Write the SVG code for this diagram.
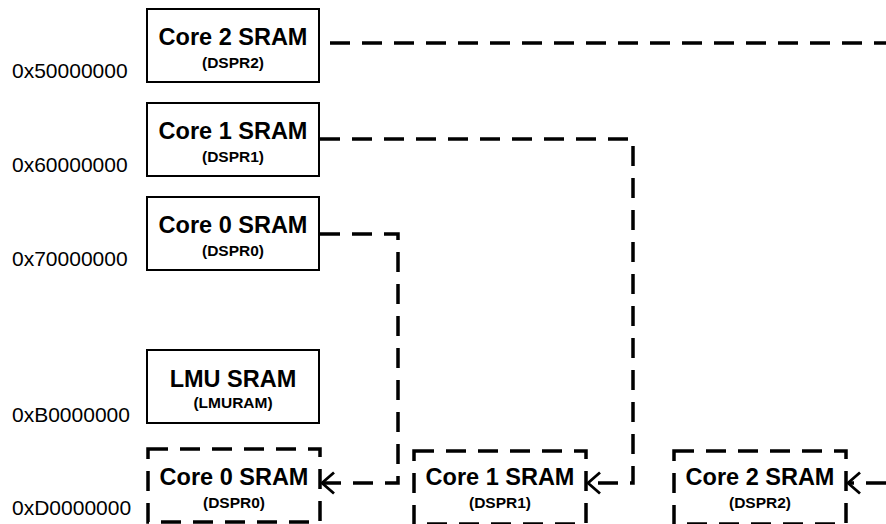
<svg xmlns="http://www.w3.org/2000/svg" width="886" height="524" viewBox="0 0 886 524">
<style>
.box{fill:#fff;stroke:#000;stroke-width:2}
.dbox{fill:#fff;stroke:#000;stroke-width:3.5;stroke-dasharray:20 12}
.t{font-family:"Liberation Sans",Arial,sans-serif;font-weight:bold;font-size:23.5px;text-anchor:middle;fill:#000}
.s{font-family:"Liberation Sans",Arial,sans-serif;font-weight:bold;font-size:15.5px;text-anchor:middle;fill:#000}
.addr{font-family:"Liberation Sans",Arial,sans-serif;font-size:21px;fill:#000}
.conn{fill:none;stroke:#000;stroke-width:3.5;stroke-dasharray:20 12}
</style>
<defs>
<marker id="arr" markerUnits="userSpaceOnUse" markerWidth="18" markerHeight="24" refX="15" refY="12" orient="auto" viewBox="0 0 18 24">
<path d="M3,1.5 L15,12 L3,22.5" fill="none" stroke="#000" stroke-width="2.8"/>
</marker>
</defs>
<g id="addresses">
<text class="addr" x="12" y="78">0x50000000</text>
<text class="addr" x="12" y="172">0x60000000</text>
<text class="addr" x="12" y="266">0x70000000</text>
<text class="addr" x="12" y="422">0xB0000000</text>
<text class="addr" x="12" y="515">0xD0000000</text>
</g>
<g id="core2">
<rect class="box" x="147" y="9" width="172" height="73"/>
<text class="t" x="233" y="45">Core 2 SRAM</text>
<text class="s" x="233" y="68">(DSPR2)</text>
</g>
<g id="core1">
<rect class="box" x="147" y="103" width="172" height="73"/>
<text class="t" x="233" y="139">Core 1 SRAM</text>
<text class="s" x="233" y="162">(DSPR1)</text>
</g>
<g id="core0">
<rect class="box" x="147" y="197" width="172" height="73"/>
<text class="t" x="233" y="233">Core 0 SRAM</text>
<text class="s" x="233" y="256">(DSPR0)</text>
</g>
<g id="lmu">
<rect class="box" x="147" y="350" width="172" height="73"/>
<text class="t" x="233" y="387">LMU SRAM</text>
<text class="s" x="233" y="408">(LMURAM)</text>
</g>
<g id="core0_local">
<rect class="dbox" x="148" y="449" width="172" height="73"/>
<text class="t" x="234" y="485">Core 0 SRAM</text>
<text class="s" x="234" y="508">(DSPR0)</text>
</g>
<g id="core1_local">
<rect class="dbox" x="414" y="451" width="172" height="73"/>
<text class="t" x="500" y="485">Core 1 SRAM</text>
<text class="s" x="500" y="508">(DSPR1)</text>
</g>
<g id="core2_local">
<rect class="dbox" x="674" y="451" width="172" height="73"/>
<text class="t" x="760" y="485">Core 2 SRAM</text>
<text class="s" x="760" y="508">(DSPR2)</text>
</g>
<g id="connectors">
<path class="conn" d="M330,43 H900 V483 H848" marker-end="url(#arr)"/>
<path class="conn" d="M320,139 H633 V483 H588" marker-end="url(#arr)"/>
<path class="conn" d="M320,234 H398 V483 H322" marker-end="url(#arr)"/>
</g>
</svg>
